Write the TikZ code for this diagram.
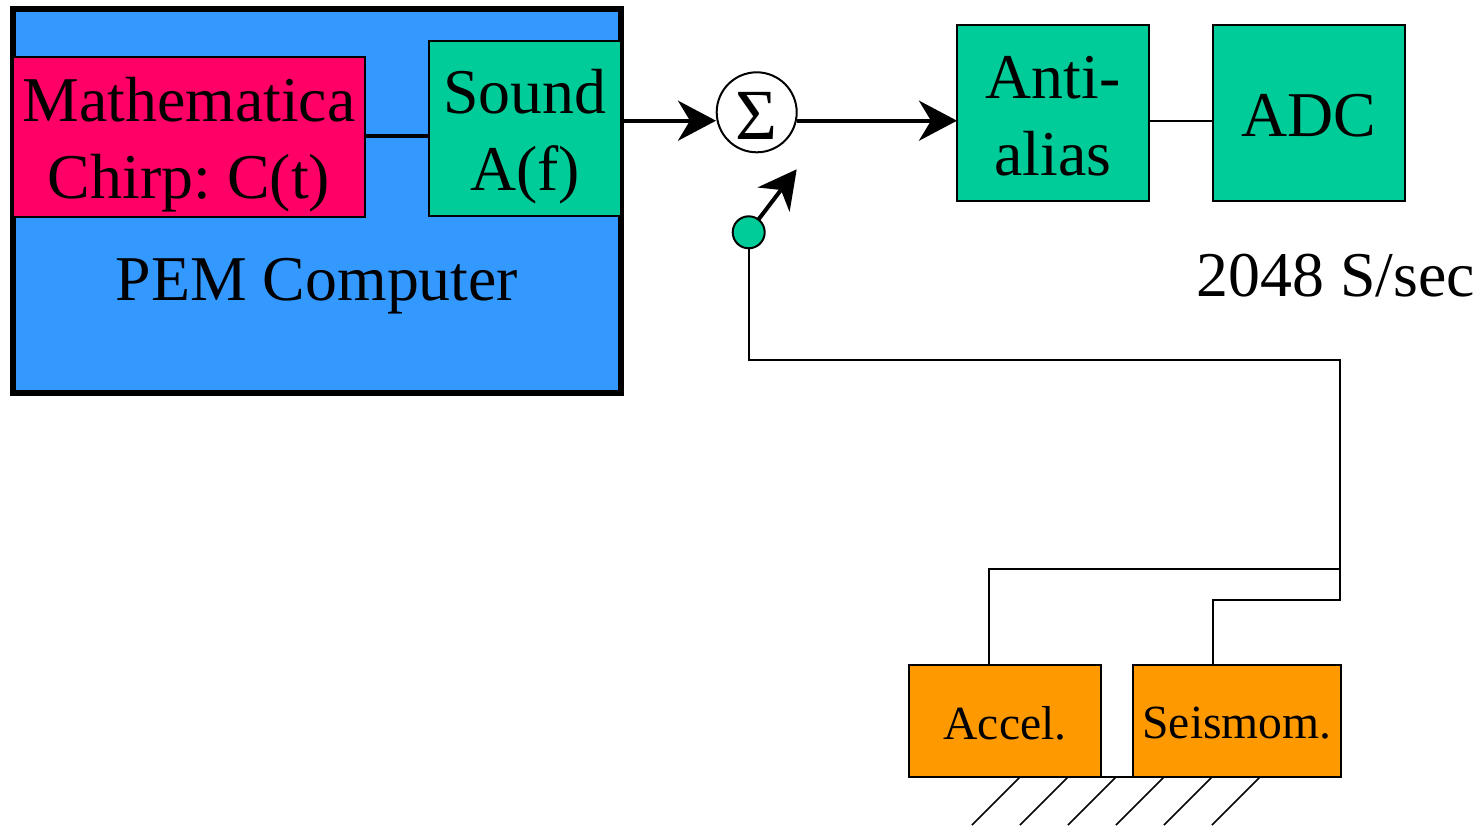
\documentclass[tikz,border=0pt]{standalone}
\usepackage{fontspec}
\setmainfont{Liberation Serif}
\usetikzlibrary{arrows.meta}
\definecolor{qblue}{RGB}{51,153,255}
\definecolor{qred}{RGB}{255,0,102}
\definecolor{qgreen}{RGB}{0,204,153}
\definecolor{qorange}{RGB}{255,153,0}
\tikzset{
  block/.style={draw,line width=1pt,inner sep=0pt,outer sep=0pt},
  small/.style={block,fill=qorange},
  plain/.style={inner sep=0pt,outer sep=0pt,align=center,font=\fontsize{31.9}{38.7}\selectfont},
  plainsmall/.style={inner sep=0pt,outer sep=0pt,font=\fontsize{23.8}{28}\selectfont},
  bigarrow/.style={-{Stealth[length=19pt,width=20pt,inset=6pt]},line width=2pt},
  wire/.style={line width=0.8pt}
}
\begin{document}
\begin{tikzpicture}[x=0.5pt,y=-0.5pt]
\useasboundingbox (0,0) rectangle (1480,826);

\coordinate (sumin) at (716,120.7);
\coordinate (sumout) at (797,120.7);
\coordinate (tapend) at (796.7,169.3);
\coordinate (busa) at (1340,569);
\coordinate (busb) at (1340,600);
\coordinate (accelin) at (989,664.8);
\coordinate (seisin) at (1213,664.8);

%PEM computer:
\node[block,fill=qblue,line width=3pt,minimum width=304pt,minimum height=192pt] (pem) at (317,201) {};
\node[plain] (pemlabel) at (317,286) {PEM Computer};
\node[block,fill=qred,minimum width=176pt,minimum height=80pt] (chirp) at (189,136.7) {};
\node[plain] (chirplabel) at (189,144.7) {Mathematica\\Chirp:\hspace{-2.5pt} C(t)};
\node[block,fill=qgreen,minimum width=96pt,minimum height=87.5pt] (sound) at (525,128.7) {};
\node[plain] (soundlabel) at (525,136.7) {Sound\\A(f)};
\draw[line width=2pt] (chirp.east |- 0,136) -- (sound.west |- 0,136);

%Summing point:
\node[draw,circle,line width=1pt,inner sep=0pt,outer sep=0pt,minimum size=40pt] (sum) at (756.7,112.3) {};
\node[plain,font=\fontsize{36}{40}\selectfont] (sumlabel) at (756.7,116) {Σ};
\node[draw,circle,fill=qgreen,line width=1pt,inner sep=0pt,outer sep=0pt,minimum size=16pt] (tap) at (748.7,232.3) {};

%Anti-alias and ADC:
\node[block,fill=qgreen,minimum width=96pt,minimum height=88pt] (anti) at (1053,113) {};
\node[plain] (antilabel) at (1053,116) {Anti-\\alias};
\node[block,fill=qgreen,minimum width=96pt,minimum height=88pt] (adc) at (1309,113) {};
\node[plain] (adclabel) at (1309,116) {ADC};
\node[plain] (rate) at (1336,276) {2048 S/sec};

\draw[bigarrow] (sound.east |- sumin) -- (sumin);
\draw[bigarrow] (sumout) -- (anti.west |- sumout);
\draw[bigarrow] (tap) -- (tapend);
\draw[wire] (anti.east |- sumout) -- (adc.west |- sumout);

%Ground:
\draw[wire] (957,777) -- (1260,777);
\foreach \gx in {1020,1068,1116,1164,1212,1260}{
  \draw[wire] (\gx,777) -- +(-48,48);
}

%Sensors:
\node[small,minimum width=96pt,minimum height=56pt] (accel) at (1005,721) {};
\node[plainsmall] (accellabel) at (1005,723) {Accel.};
\node[small,minimum width=104pt,minimum height=56pt] (seismom) at (1237,721) {};
\node[plainsmall] (seismomlabel) at (1237,723) {Seismom.};

\draw[wire] (tap.south) |- (1340,360) -- (busb) -| (seisin);
\draw[wire] (accelin) |- (busa);

\end{tikzpicture}
\end{document}
